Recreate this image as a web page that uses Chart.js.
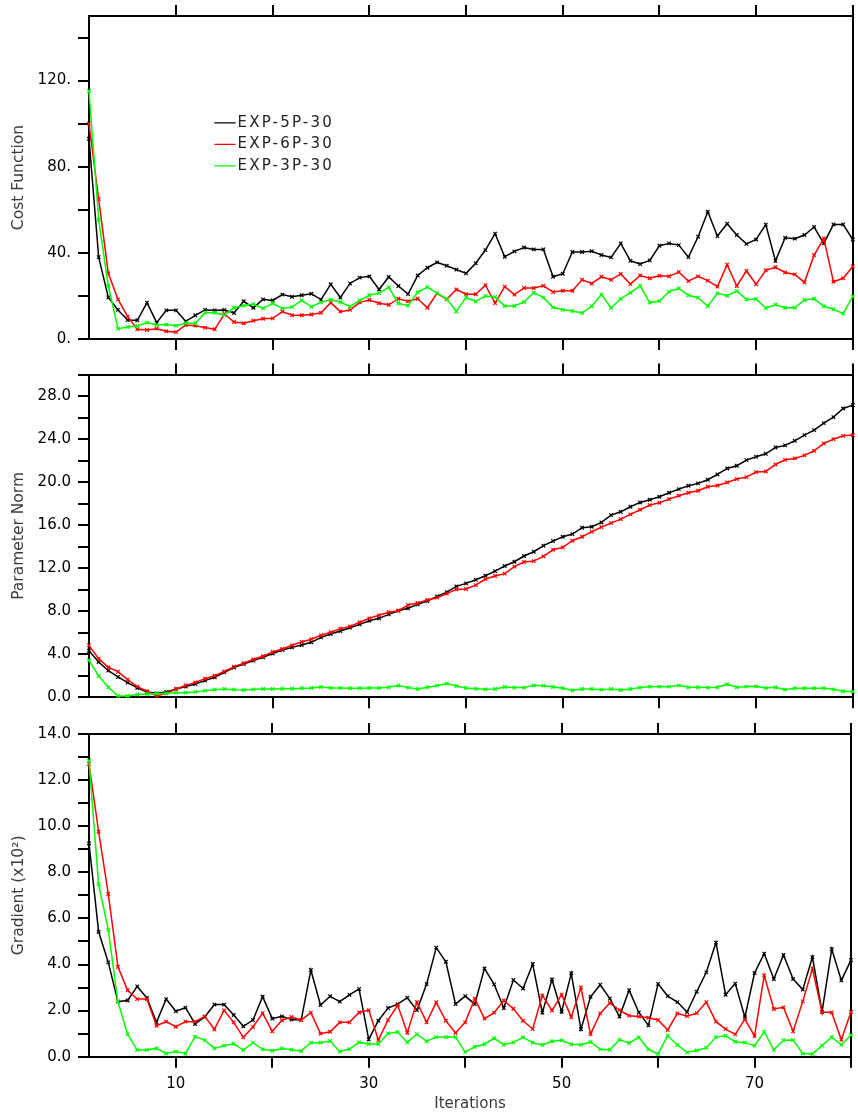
<!DOCTYPE html>
<html>
<head>
<meta charset="utf-8">
<script src="https://cdn.jsdelivr.net/npm/chart.js@4/dist/chart.umd.min.js"></script>
<style>
html,body{margin:0;padding:0;background:#fff;}
#wrap{position:relative;width:858px;height:1115px;overflow:hidden;}
canvas{position:absolute;left:0;}
</style>
</head>
<body>
<div id="wrap">
<canvas id="c1" width="858" height="355" style="top:0px"></canvas>
<canvas id="c2" width="858" height="360" style="top:355px"></canvas>
<canvas id="c3" width="858" height="400" style="top:715px"></canvas>
</div>
<script>
// ---------------- data ----------------
const iterations = [1,2,3,4,5,6,7,8,9,10,11,12,13,14,15,16,17,18,19,20,21,22,23,24,25,26,27,28,29,30,31,32,33,34,35,36,37,38,39,40,41,42,43,44,45,46,47,48,49,50,51,52,53,54,55,56,57,58,59,60,61,62,63,64,65,66,67,68,69,70,71,72,73,74,75,76,77,78,79,80];
const seriesNames = ['EXP-5P-30', 'EXP-6P-30', 'EXP-3P-30'];

const costExp5 = [93,38,19.3,13.5,8.8,8.7,16.9,7.6,13.3,13.3,8.2,11,13.5,13.3,13.5,12.1,17.5,14.5,18.4,17.9,20.6,19.6,20.3,21,18.3,25.4,19.3,25.8,28.5,29.1,23,28.8,24.6,20.9,29.5,33.1,35.6,34,32.2,30.5,35.2,41.3,48.9,38.2,40.7,42.5,41.6,41.6,28.9,30.3,40.4,40.4,40.8,39,37.9,44.4,36.3,34.8,36.5,43.3,44.4,43.6,38,47.5,59.1,47.8,53.5,48.3,44.2,46.2,53.1,36.3,47,46.6,48.3,52,44.4,53.2,53.2,46.2];
const costExp6 = [100,65,30.5,18.4,10.4,4.5,4.2,4.8,3.6,3.2,6.5,6.2,5.3,4.5,11.6,7.9,7.3,8.5,9.4,9.6,12.7,11,11,11.4,12.2,16.9,12.7,13.5,17,18.1,16.6,15.9,18.7,17.5,18.7,14.5,21.2,18.4,23,20.8,20.8,25,16.7,24.3,20.6,23.7,23.7,24.7,21.8,22.4,22.4,27.5,25.8,28.9,27.5,30.2,25.5,29.5,28.2,29.4,29.1,31.1,26.9,29.1,27.1,24.3,34.5,24.6,31.6,25.4,31.9,33.3,30.9,30,26.3,39,46.7,26.6,28.2,33.7];
const costExp3 = [115.2,55.4,24.6,4.8,5.6,5.9,7.6,6.5,6.7,6.2,7.3,7.3,12.2,12.2,11.1,14.5,15.5,16.2,14.2,16.6,14.2,14.8,17.9,15,17,18.3,17.2,15,17.9,20.3,21.3,24,16.6,15.5,21.7,24.1,21.3,18.7,12.8,19.3,17.4,20,19.5,15.3,15.3,17.2,21.5,19.2,14.7,13.6,13,12.1,15.2,20.7,14.4,18.7,21.5,24.7,16.9,17.6,22,23.5,20.3,19.2,15.2,21.2,20.1,22.3,18.4,18.6,14.4,15.9,14.5,14.5,18.1,18.7,15.2,13.8,11.8,19.8];

const normExp5 = [4.33,3.28,2.48,1.89,1.36,0.87,0.5,0.37,0.5,0.77,0.99,1.24,1.55,1.86,2.32,2.76,3.1,3.41,3.72,4.06,4.4,4.64,4.86,5.11,5.57,5.88,6.16,6.47,6.78,7.12,7.34,7.71,8.05,8.27,8.64,8.95,9.38,9.78,10.31,10.59,10.93,11.3,11.73,12.2,12.6,13.13,13.53,14.09,14.52,14.92,15.17,15.76,15.85,16.25,16.93,17.24,17.71,18.11,18.36,18.64,19.01,19.35,19.66,19.88,20.22,20.71,21.27,21.52,22.04,22.35,22.63,23.22,23.41,23.84,24.37,24.83,25.48,26.04,26.84,27.15];
const normExp6 = [4.83,3.59,2.79,2.38,1.64,0.99,0.56,0.12,0.37,0.77,1.11,1.39,1.73,2.01,2.41,2.85,3.16,3.53,3.81,4.21,4.49,4.83,5.14,5.39,5.76,6.04,6.38,6.59,6.97,7.34,7.62,7.9,8.05,8.58,8.76,9.04,9.26,9.63,10.03,10.06,10.43,10.99,11.27,11.49,12.14,12.57,12.66,13.1,13.71,13.93,14.55,14.92,15.39,15.82,16.19,16.56,17.0,17.43,17.86,18.08,18.42,18.73,19.01,19.2,19.57,19.69,19.97,20.28,20.46,20.93,20.99,21.64,22.07,22.2,22.48,22.91,23.59,23.99,24.3,24.37];
const normExp3 = [3.44,1.98,0.93,0.12,0.12,0.25,0.31,0.34,0.37,0.43,0.43,0.5,0.62,0.71,0.77,0.71,0.68,0.74,0.77,0.77,0.8,0.8,0.84,0.87,0.96,0.87,0.87,0.84,0.84,0.87,0.87,0.93,1.1,0.9,0.77,0.93,1.08,1.27,1.05,0.87,0.8,0.74,0.77,0.96,0.9,0.9,1.11,1.08,0.96,0.84,0.65,0.77,0.77,0.71,0.77,0.68,0.77,0.9,0.99,0.99,0.99,1.11,0.93,0.93,0.9,0.93,1.21,0.93,0.99,1.02,0.87,0.93,0.71,0.84,0.84,0.84,0.84,0.74,0.56,0.53];

const gradExp5 = [9.25,5.42,4.09,2.39,2.44,3.05,2.55,1.49,2.5,1.97,2.13,1.42,1.72,2.26,2.26,1.81,1.32,1.59,2.6,1.65,1.75,1.61,1.59,3.76,2.24,2.62,2.39,2.68,2.94,0.75,1.56,2.11,2.28,2.56,2.02,3.15,4.73,4.12,2.28,2.63,2.28,3.83,3.14,2.11,3.33,2.96,4.02,1.91,3.35,1.95,3.62,1.19,2.6,3.12,2.52,1.74,2.89,1.92,1.36,3.16,2.63,2.37,1.94,2.82,3.66,4.95,2.69,3.17,1.71,3.63,4.47,3.37,4.41,3.37,2.91,4.32,1.94,4.67,3.31,4.19];
const gradExp6 = [12.7,9.76,7.06,3.9,2.88,2.5,2.5,1.34,1.52,1.3,1.52,1.52,1.75,1.19,2.01,1.49,0.84,1.29,1.89,1.1,1.58,1.72,1.59,1.91,1.0,1.08,1.49,1.49,1.92,2.02,0.72,1.59,2.23,1.04,2.37,1.49,2.36,1.56,1.03,1.49,2.52,1.65,1.91,2.44,2.08,1.56,1.2,2.66,2.0,2.69,1.72,3.0,0.98,1.88,2.33,2.02,1.78,1.74,1.69,1.59,1.16,1.88,1.76,1.89,2.37,1.52,1.2,0.97,1.63,0.9,3.53,2.07,2.14,1.1,2.4,3.82,1.94,1.92,0.74,1.94];
const gradExp3 = [12.84,7.48,5.5,2.39,0.98,0.29,0.29,0.36,0.14,0.22,0.14,0.87,0.72,0.36,0.48,0.56,0.29,0.61,0.32,0.26,0.36,0.3,0.25,0.61,0.61,0.68,0.22,0.33,0.62,0.55,0.55,1.01,1.07,0.62,0.98,0.67,0.85,0.85,0.85,0.2,0.43,0.54,0.8,0.52,0.62,0.84,0.61,0.51,0.67,0.71,0.54,0.52,0.64,0.32,0.3,0.74,0.59,0.84,0.32,0.12,0.91,0.51,0.19,0.27,0.39,0.85,0.91,0.65,0.61,0.48,1.08,0.3,0.71,0.72,0.14,0.12,0.48,0.85,0.52,0.94];

// tick values / labels
const xTickValues = [10,20,30,40,50,60,70,80];
const xTickLabels = ['10','','30','','50','','70',''];
const costTickValues = [0,20,40,60,80,100,120,140];
const costTickLabels = ['0.','','40.','','80.','','120.',''];
const normTickValues = [0,2,4,6,8,10,12,14,16,18,20,22,24,26,28,30];
const normTickLabels = ['0.0','','4.0','','8.0','','12.0','','16.0','','20.0','','24.0','','28.0',''];
const gradTickValues = [0,1,2,3,4,5,6,7,8,9,10,11,12,13,14];
const gradTickLabels = ['0.0','','2.0','','4.0','','6.0','','8.0','','10.0','','12.0','','14.0'];

// ---------------- styles ----------------
const FONT = "'DejaVu Sans', sans-serif";
const seriesColors = ['#000000', '#ff0000', '#00ff00'];
const seriesDrawOrder = [3, 2, 1];   // green drawn on top, as in the original
const TITLE_COLOR = '#3a3a3a';

Chart.defaults.font.family = FONT;

const gridOpts = {drawOnChartArea: false, drawTicks: true, tickLength: 11, color: '#000', lineWidth: 2, tickWidth: 2, tickColor: '#000'};
const borderOpts = {display: true, color: '#000', width: 2};

// moves the chartArea legend to its place inside the plot and widens its letter spacing
const legendShift = {
  id: 'legendShift',
  afterLayout(chart, args, opts) {
    const l = chart.legend;
    if (!l || !opts || opts.left === undefined) return;
    const w = l.width + 60, h = l.height;
    l.width = w;
    l.left = opts.left; l.top = opts.top;
    l.right = l.left + w; l.bottom = l.top + h;
    if (!l._spaced) {
      const orig = l.draw;
      l.draw = function(area) {
        const ctx = chart.ctx;
        ctx.save();
        ctx.letterSpacing = opts.letterSpacing || '0px';
        orig.call(l, area);
        ctx.restore();
      };
      l._spaced = true;
    }
  }
};

function makePanel(id, series, cfg) {
  const datasets = series.map((vals, k) => ({
    label: seriesNames[k],
    data: iterations.map((it, j) => ({x: it, y: vals[j]})),
    borderColor: seriesColors[k],
    backgroundColor: seriesColors[k],
    borderWidth: 1.5,
    pointStyle: 'crossRot',
    pointRadius: 2.5,
    pointBorderWidth: 1.2,
    pointBorderColor: seriesColors[k],
    tension: 0,
    fill: false,
    clip: false,
    order: seriesDrawOrder[k],
    xAxisID: 'x',
    yAxisID: 'y'
  }));
  const titleFont = {family: FONT, size: 15.5};
  return new Chart(document.getElementById(id), {
    type: 'line',
    data: {datasets},
    plugins: [legendShift],
    options: {
      responsive: false,
      animation: false,
      devicePixelRatio: 1,
      layout: {padding: {left: 0, right: 1, top: 0, bottom: 0}},
      plugins: {
        tooltip: {enabled: false},
        legend: cfg.legend ? {
          display: true,
          position: 'chartArea',
          align: 'start',
          labels: {
            usePointStyle: true, pointStyle: 'line',
            boxWidth: 10, boxHeight: 15, padding: 6.5,
            color: '#222', font: {family: FONT, size: 15},
            sort: (a, b) => a.datasetIndex - b.datasetIndex
          }
        } : {display: false},
        legendShift: cfg.legend ? {left: 213.5, top: 108.8, letterSpacing: '2.2px'} : {}
      },
      scales: {
        x: {
          type: 'linear', position: 'bottom', min: 1, max: 80,
          afterBuildTicks: s => { s.ticks = xTickValues.map(v => ({value: v})); },
          afterFit: s => { s.height = cfg.bottomH; },
          grid: gridOpts, border: borderOpts,
          ticks: {display: !!cfg.xLabels, autoSkip: false, maxRotation: 0, padding: 7, color: '#000',
                  font: {family: FONT, size: 15}, callback: (v, i) => xTickLabels[i]},
          title: cfg.xTitle ? {display: true, text: cfg.xTitle, color: TITLE_COLOR,
                  font: {family: FONT, size: 15}, padding: {top: 0, bottom: 2}} : {display: false}
        },
        xTop: {
          type: 'linear', position: 'top', min: 1, max: 80,
          afterBuildTicks: s => { s.ticks = xTickValues.map(v => ({value: v})); },
          afterFit: s => { s.height = cfg.topH; },
          grid: gridOpts, border: borderOpts,
          ticks: {display: false}
        },
        y: {
          type: 'linear', position: 'left', min: cfg.yMin, max: cfg.yMax,
          afterBuildTicks: s => { s.ticks = cfg.yTicks.map(v => ({value: v})); },
          afterFit: s => { s.width = 89; },
          grid: gridOpts, border: borderOpts,
          ticks: {autoSkip: false, padding: 7, color: '#000', font: {family: FONT, size: 15},
                  callback: (v, i) => cfg.yLabels[i]},
          title: {display: true, text: cfg.yTitle, color: TITLE_COLOR, font: titleFont,
                  padding: {top: 10, bottom: 0}}
        },
        yR: {
          type: 'linear', position: 'right', min: cfg.yMin, max: cfg.yMax,
          afterFit: s => { s.width = 0; },
          grid: {display: false, drawTicks: false},
          border: borderOpts,
          ticks: {display: false}
        }
      }
    }
  });
}

makePanel('c1', [costExp5, costExp6, costExp3], {
  yMin: 0, yMax: 150, yTicks: costTickValues, yLabels: costTickLabels,
  yTitle: 'Cost Function', topH: 15.3, bottomH: 16, legend: true
});
makePanel('c2', [normExp5, normExp6, normExp3], {
  yMin: 0, yMax: 30, yTicks: normTickValues, yLabels: normTickLabels,
  yTitle: 'Parameter Norm', topH: 19.5, bottomH: 17.7
});
makePanel('c3', [gradExp5, gradExp6, gradExp3], {
  yMin: 0, yMax: 14, yTicks: gradTickValues, yLabels: gradTickLabels,
  yTitle: 'Gradient (x10\u00B2)', topH: 19, bottomH: 58.3, xLabels: true, xTitle: 'Iterations'
});
</script>
</body>
</html>
